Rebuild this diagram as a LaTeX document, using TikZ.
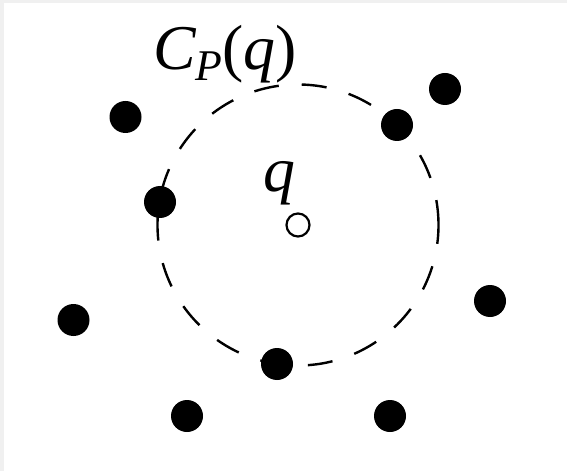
\documentclass[tikz,border=0pt]{standalone}
\usepackage{fontspec}
\setmainfont{Liberation Serif}
\usepackage{tikz}
\tikzset{
  site/.style={circle, fill=black, minimum size=32bp, inner sep=0pt},
  query/.style={circle, draw, line width=2.2bp, fill=white, minimum size=23bp, inner sep=0pt},
  disk/.style={line width=2.4bp, dash pattern=on 25bp off 23bp},
  bigtext/.style={inner sep=0pt, font=\fontsize{64}{64}\selectfont\itshape}
}

\begin{document}
\begin{tikzpicture}[x=1bp, y=-1bp]
  \fill[gray!12] (0,0) rectangle (567,471);
  \fill[white] (4,3) rectangle (567,471);

  \node[query] (q) at (298,225) {};
  \draw[disk] (q.center) ++(140.5,0) arc[start angle=0, end angle=-360, radius=140.5];

  \node[site] (p1) at (125.5,117) {};
  \node[site] (p2) at (445,89) {};
  \node[site] (p3) at (397,125) {};
  \node[site] (p4) at (160,202) {};
  \node[site] (p5) at (490,301) {};
  \node[site] (p6) at (73.5,320) {};
  \node[site] (p7) at (277,364) {};
  \node[site] (p8) at (187,416) {};
  \node[site] (p9) at (390,416) {};

  \node[bigtext, anchor=base west] (cp) at (153,70)
    {C\raisebox{-0.16em}{\fontsize{44}{44}\selectfont P}\upshape(\itshape q\upshape)};
  \node[bigtext, anchor=base west] (ql) at (263,192) {q};
\end{tikzpicture}
\end{document}
